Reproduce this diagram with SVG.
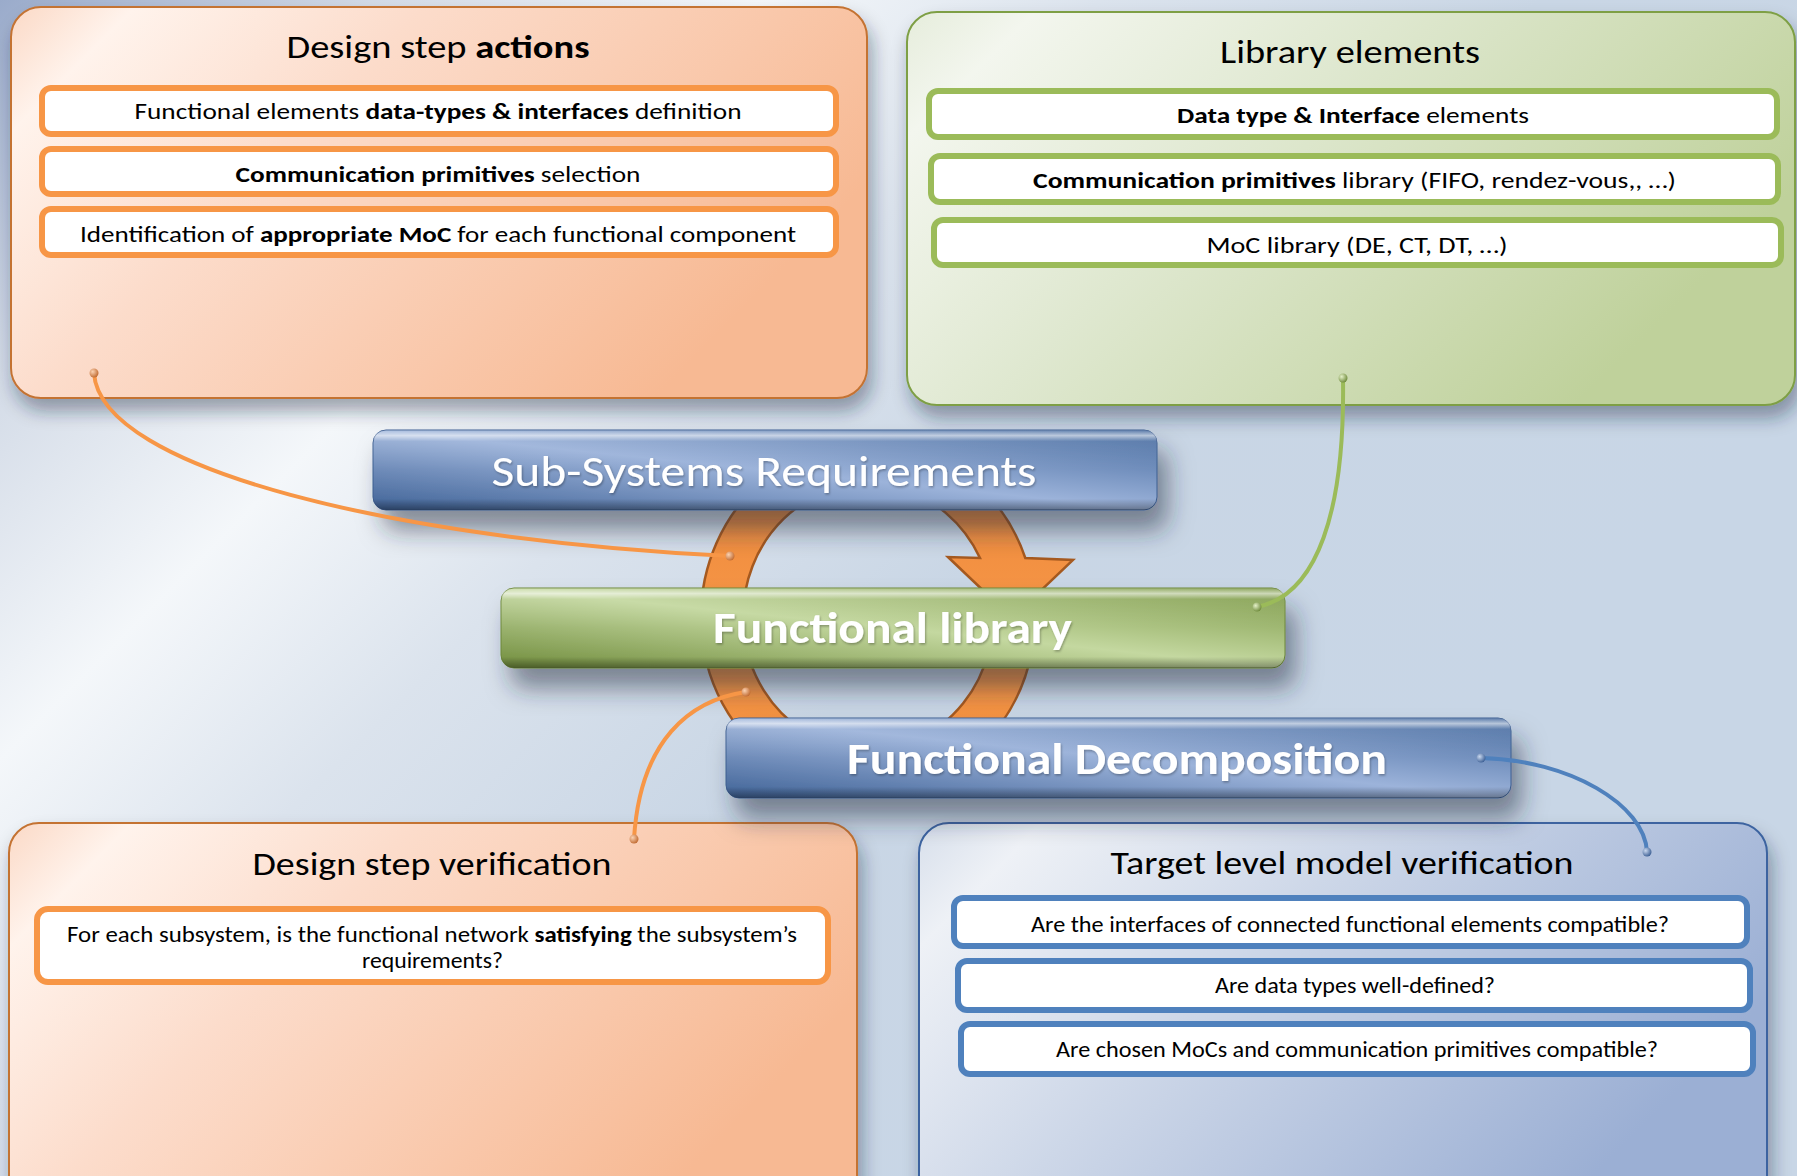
<svg xmlns="http://www.w3.org/2000/svg" width="1797" height="1176" viewBox="0 0 1797 1176">
  <defs>
    <style>
      .t { font-family: Carlito, Lato, "Liberation Sans", sans-serif; text-anchor: middle; fill: #000; }
      .ttl { font-size: 32px; }
      .itm { font-size: 23px; }
      .bar { font-size: 44px; fill: #fff; }
      .b { font-weight: bold; }
      .box-o { fill: #fff; stroke: #f79646; stroke-width: 6; }
      .box-g { fill: #fff; stroke: #9bbb59; stroke-width: 6; }
      .box-b { fill: #fff; stroke: #4f81bd; stroke-width: 6; }
      .link { fill: none; stroke-width: 4; stroke-linecap: round; }
    </style>

    <!-- page background with diagonal sheen -->
    <linearGradient id="bg" gradientUnits="userSpaceOnUse" x1="0" y1="0" x2="1100" y2="1100">
      <stop offset="0" stop-color="#9aabcb"/>
      <stop offset="0.17" stop-color="#d3dbe7"/>
      <stop offset="0.345" stop-color="#f4f7fa"/>
      <stop offset="0.5" stop-color="#dbe3ed"/>
      <stop offset="0.7" stop-color="#c9d6e5"/>
      <stop offset="1" stop-color="#c8d6e6"/>
    </linearGradient>

    <!-- panel fills -->
    <linearGradient id="panelOrange" x1="0" y1="0" x2="1" y2="0.45">
      <stop offset="0" stop-color="#fbd9c6"/>
      <stop offset="0.12" stop-color="#fff3ec"/>
      <stop offset="0.4" stop-color="#fcdccb"/>
      <stop offset="1" stop-color="#f7b993"/>
    </linearGradient>
    <linearGradient id="panelGreen" x1="0" y1="0" x2="1" y2="0.45">
      <stop offset="0" stop-color="#e6eddc"/>
      <stop offset="0.12" stop-color="#f3f6ee"/>
      <stop offset="0.45" stop-color="#dfe8d0"/>
      <stop offset="1" stop-color="#bfd19b"/>
    </linearGradient>
    <linearGradient id="panelBlue" x1="0" y1="0" x2="1" y2="0.45">
      <stop offset="0" stop-color="#d7dfeb"/>
      <stop offset="0.12" stop-color="#eef1f6"/>
      <stop offset="0.45" stop-color="#cdd7e8"/>
      <stop offset="1" stop-color="#9bafd4"/>
    </linearGradient>

    <!-- bar fills: diagonal sheen -->
    <linearGradient id="barBlue" x1="0" y1="1" x2="1" y2="0">
      <stop offset="0" stop-color="#3f6296"/>
      <stop offset="0.5" stop-color="#9cb3da"/>
      <stop offset="1" stop-color="#44699e"/>
    </linearGradient>
    <linearGradient id="barGreen" x1="0" y1="1" x2="1" y2="0">
      <stop offset="0" stop-color="#708c3c"/>
      <stop offset="0.5" stop-color="#c4d8a0"/>
      <stop offset="1" stop-color="#7b9845"/>
    </linearGradient>
    <linearGradient id="bevel" x1="0" y1="0" x2="0" y2="1">
      <stop offset="0" stop-color="#fff" stop-opacity="0.1"/>
      <stop offset="0.07" stop-color="#fff" stop-opacity="0.6"/>
      <stop offset="0.14" stop-color="#fff" stop-opacity="0.08"/>
      <stop offset="0.5" stop-color="#fff" stop-opacity="0"/>
      <stop offset="0.86" stop-color="#000" stop-opacity="0"/>
      <stop offset="1" stop-color="#000" stop-opacity="0.35"/>
    </linearGradient>

    <linearGradient id="ringFill" x1="0" y1="0" x2="0" y2="1">
      <stop offset="0" stop-color="#e9863a"/>
      <stop offset="0.5" stop-color="#f79646"/>
      <stop offset="1" stop-color="#f3903f"/>
    </linearGradient>

    <!-- keeps the ring inside the band covered by the bars -->
    <clipPath id="ringClip">
      <rect x="600" y="445" width="600" height="345"/>
    </clipPath>

    <radialGradient id="dotOrange" cx="0.35" cy="0.35" r="0.7">
      <stop offset="0" stop-color="#fbd2b2"/>
      <stop offset="1" stop-color="#c06a30"/>
    </radialGradient>
    <radialGradient id="dotGreen" cx="0.35" cy="0.35" r="0.7">
      <stop offset="0" stop-color="#e4f0c8"/>
      <stop offset="1" stop-color="#6e8a3a"/>
    </radialGradient>
    <radialGradient id="dotBlue" cx="0.35" cy="0.35" r="0.7">
      <stop offset="0" stop-color="#c9d8ef"/>
      <stop offset="1" stop-color="#3c5f94"/>
    </radialGradient>

    <filter id="panelShadow" x="-5%" y="-10%" width="112%" height="125%">
      <feDropShadow dx="4" dy="12" stdDeviation="9" flood-color="#1f2c3e" flood-opacity="0.4"/>
    </filter>
    <filter id="barShadow" x="-10%" y="-30%" width="125%" height="190%">
      <feDropShadow dx="10" dy="20" stdDeviation="12" flood-color="#1f2c3e" flood-opacity="0.5"/>
    </filter>
    <filter id="textShade" x="-5%" y="-20%" width="110%" height="150%">
      <feDropShadow dx="1" dy="1.5" stdDeviation="1" flood-color="#000" flood-opacity="0.3"/>
    </filter>
  </defs>

  <rect width="1797" height="1176" fill="url(#bg)"/>

  <!-- Design step actions -->
  <g id="design-step-actions">
    <rect x="11" y="7" width="856" height="391" rx="30" fill="url(#panelOrange)" stroke="#c47333" stroke-width="2" filter="url(#panelShadow)"/>
    <text class="t ttl" x="438" y="58" textLength="303" lengthAdjust="spacingAndGlyphs">Design step <tspan class="b">actions</tspan></text>
    <rect class="box-o" x="42" y="88" width="794" height="46" rx="9"/>
    <text class="t itm" x="438" y="119" textLength="607" lengthAdjust="spacingAndGlyphs">Functional elements <tspan class="b">data-types &amp; interfaces</tspan> definition</text>
    <rect class="box-o" x="42" y="149" width="794" height="45" rx="9"/>
    <text class="t itm" x="438" y="181.5" textLength="405" lengthAdjust="spacingAndGlyphs"><tspan class="b">Communication primitives</tspan> selection</text>
    <rect class="box-o" x="42" y="209" width="794" height="46" rx="9"/>
    <text class="t itm" x="438" y="241.5" textLength="716" lengthAdjust="spacingAndGlyphs">Identification of <tspan class="b">appropriate MoC</tspan> for each functional component</text>
  </g>

  <!-- Library elements -->
  <g id="library-elements">
    <rect x="907" y="12" width="888" height="393" rx="30" fill="url(#panelGreen)" stroke="#7e9f45" stroke-width="2" filter="url(#panelShadow)"/>
    <text class="t ttl" x="1350" y="63" textLength="260" lengthAdjust="spacingAndGlyphs">Library elements</text>
    <rect class="box-g" x="929" y="91" width="848" height="46" rx="9"/>
    <text class="t itm" x="1353" y="123" textLength="352" lengthAdjust="spacingAndGlyphs"><tspan class="b">Data type &amp; Interface</tspan> elements</text>
    <rect class="box-g" x="931" y="156" width="847" height="46" rx="9"/>
    <text class="t itm" x="1354.5" y="188" textLength="643" lengthAdjust="spacingAndGlyphs"><tspan class="b">Communication primitives</tspan> library (FIFO, rendez-vous,, …)</text>
    <rect class="box-g" x="934" y="220" width="847" height="45" rx="9"/>
    <text class="t itm" x="1357" y="253" textLength="301" lengthAdjust="spacingAndGlyphs">MoC library (DE, CT, DT, …)</text>
  </g>

  <!-- Design step verification -->
  <g id="design-step-verification">
    <rect x="9" y="823" width="848" height="390" rx="30" fill="url(#panelOrange)" stroke="#c47333" stroke-width="2" filter="url(#panelShadow)"/>
    <text class="t ttl" x="432" y="875" textLength="359" lengthAdjust="spacingAndGlyphs">Design step verification</text>
    <rect class="box-o" x="37" y="909" width="791" height="73" rx="11"/>
    <text class="t itm" x="432" y="941.5" textLength="730" lengthAdjust="spacingAndGlyphs">For each subsystem, is the functional network <tspan class="b">satisfying</tspan> the subsystem’s</text>
    <text class="t itm" x="432.5" y="968" textLength="141" lengthAdjust="spacingAndGlyphs">requirements?</text>
  </g>

  <!-- Target level model verification -->
  <g id="target-level-verification">
    <rect x="919" y="823" width="848" height="390" rx="30" fill="url(#panelBlue)" stroke="#3c64a0" stroke-width="2" filter="url(#panelShadow)"/>
    <text class="t ttl" x="1342" y="874" textLength="463" lengthAdjust="spacingAndGlyphs">Target level model verification</text>
    <rect class="box-b" x="954" y="898" width="793" height="48" rx="9"/>
    <text class="t itm" x="1350" y="931.5" textLength="638" lengthAdjust="spacingAndGlyphs">Are the interfaces of connected functional elements compatible?</text>
    <rect class="box-b" x="958" y="961" width="792" height="49" rx="9"/>
    <text class="t itm" x="1355" y="993" textLength="280" lengthAdjust="spacingAndGlyphs">Are data types well-defined?</text>
    <rect class="box-b" x="961" y="1024" width="792" height="50" rx="9"/>
    <text class="t itm" x="1357" y="1057" textLength="602" lengthAdjust="spacingAndGlyphs">Are chosen MoCs and communication primitives compatible?</text>
  </g>

  <!-- circular arrow behind the three bars -->
  <g id="design-cycle" clip-path="url(#ringClip)">
    <path d="M1025.3,556 A167,176 0 1,0 1031.7,650 L988.6,650 A125,133 0 1,1 980,556 L948,555 L1012,616 L1073,558 Z" transform="translate(0,2)" fill="url(#ringFill)" stroke="#a5591f" stroke-width="2.5" stroke-linejoin="miter"/>
  </g>

  <g id="sub-systems-requirements">
    <g filter="url(#barShadow)">
      <rect x="373" y="430" width="784" height="80" rx="13" fill="url(#barBlue)" stroke="#3d5e90" stroke-width="1"/>
    </g>
    <rect x="373" y="430" width="784" height="80" rx="13" fill="url(#bevel)"/>
    <text class="t bar" x="764" y="486" textLength="545" lengthAdjust="spacingAndGlyphs" filter="url(#textShade)">Sub-Systems Requirements</text>
  </g>

  <g id="functional-library">
    <g filter="url(#barShadow)">
      <rect x="501" y="588" width="784" height="80" rx="13" fill="url(#barGreen)" stroke="#6c873a" stroke-width="1"/>
    </g>
    <rect x="501" y="588" width="784" height="80" rx="13" fill="url(#bevel)"/>
    <text class="t bar b" x="892.5" y="643" textLength="359" lengthAdjust="spacingAndGlyphs" filter="url(#textShade)">Functional library</text>
  </g>

  <g id="functional-decomposition">
    <g filter="url(#barShadow)">
      <rect x="726" y="718" width="785" height="80" rx="13" fill="url(#barBlue)" stroke="#3d5e90" stroke-width="1"/>
    </g>
    <rect x="726" y="718" width="785" height="80" rx="13" fill="url(#bevel)"/>
    <text class="t bar b" x="1117" y="774" textLength="540" lengthAdjust="spacingAndGlyphs" filter="url(#textShade)">Functional Decomposition</text>
  </g>

  <!-- connectors between the cycle and the side panels -->
  <g id="connectors">
    <path class="link" d="M94,373 C100,470 400,540 730,556" stroke="#f79646"/>
    <path class="link" d="M1343,378 C1345,510 1318,595 1257,607" stroke="#9bbb59"/>
    <path class="link" d="M746,692 C690,700 640,740 634,839" stroke="#f79646"/>
    <path class="link" d="M1481,758 C1570,760 1645,805 1647,852" stroke="#4f81bd" stroke-width="5"/>
    <circle cx="94" cy="373" r="4.5" fill="url(#dotOrange)"/>
    <circle cx="730" cy="556" r="4.5" fill="url(#dotOrange)"/>
    <circle cx="1343" cy="378" r="4.5" fill="url(#dotGreen)"/>
    <circle cx="1257" cy="607" r="4.5" fill="url(#dotGreen)"/>
    <circle cx="746" cy="692" r="4.5" fill="url(#dotOrange)"/>
    <circle cx="634" cy="839" r="4.5" fill="url(#dotOrange)"/>
    <circle cx="1481" cy="758" r="4.5" fill="url(#dotBlue)"/>
    <circle cx="1647" cy="852" r="4.5" fill="url(#dotBlue)"/>
  </g>
</svg>
